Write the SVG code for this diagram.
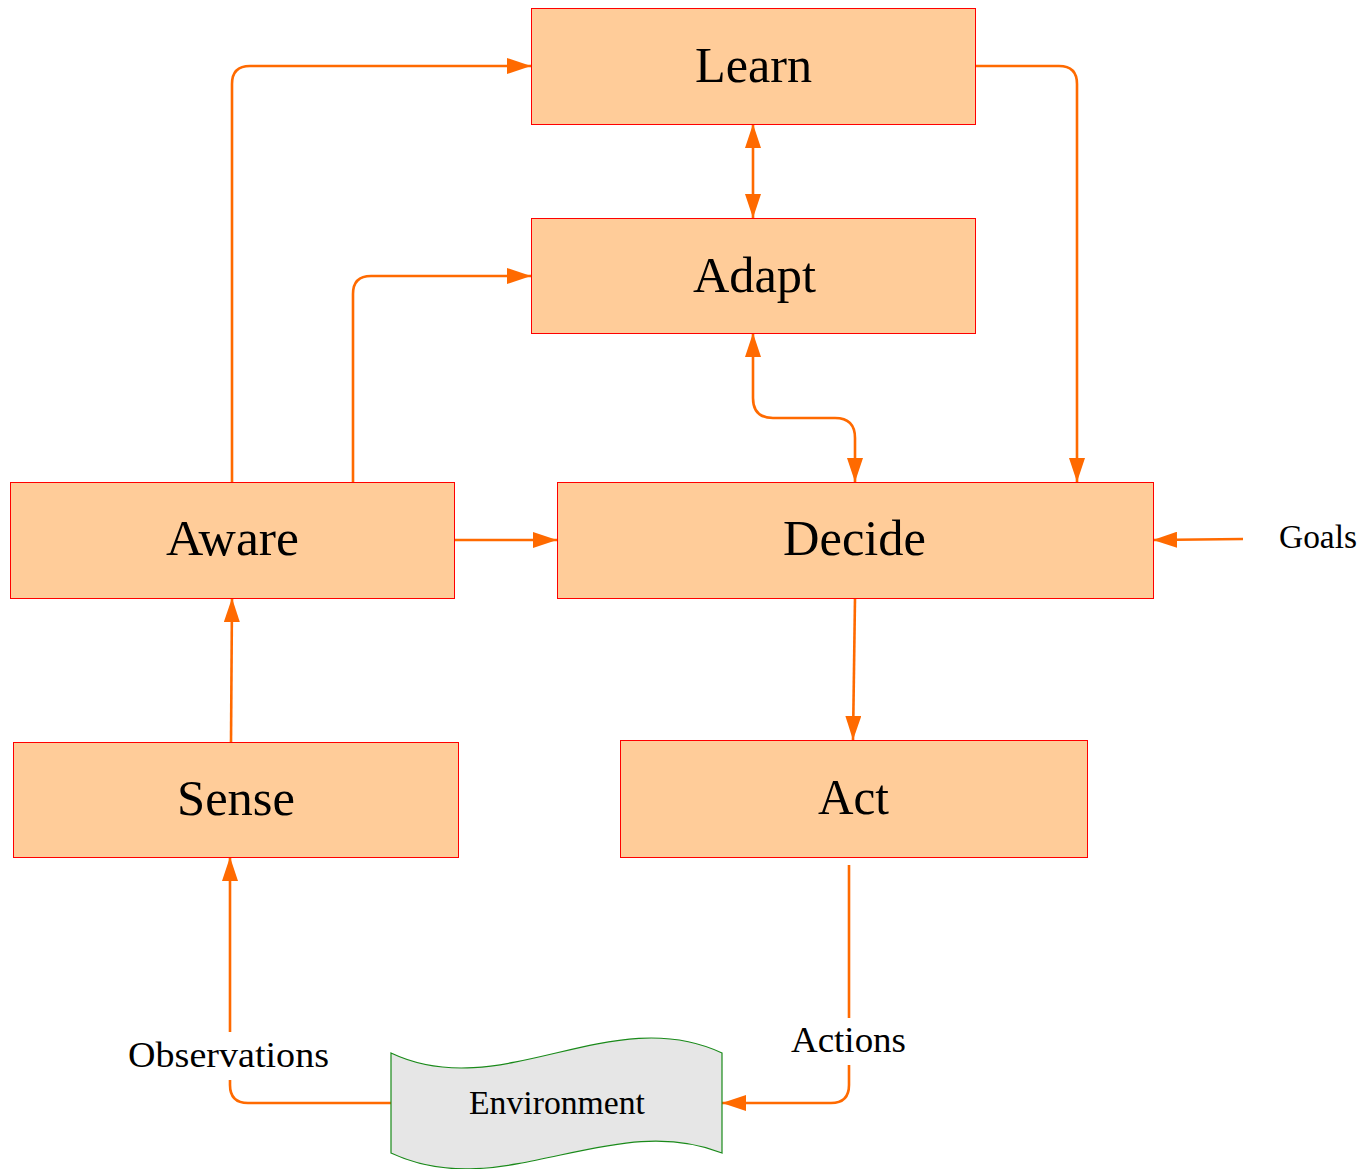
<svg xmlns="http://www.w3.org/2000/svg" width="1361" height="1169" viewBox="0 0 1361 1169">
  <style>
    .box { fill: #ffcc99; stroke: #ff0000; stroke-width: 1; }
    .env { fill: #e6e6e6; stroke: #1a8a1a; stroke-width: 1.2; }
    .t { font-family: "Liberation Serif", "Times New Roman", serif; fill: #000; text-anchor: middle; }
    .big { font-size: 50px; }
    .small { font-size: 33px; }
    .mid { font-size: 36px; }
    .edge { fill: none; stroke: #ff6a00; stroke-width: 2.6; }
    .arr { marker-end: url(#ah); }
    .both { marker-start: url(#ahs); marker-end: url(#ah); }
  </style>
  <defs>
    <marker id="ah" viewBox="0 0 24 16" refX="24" refY="8" markerWidth="24" markerHeight="16" markerUnits="userSpaceOnUse" orient="auto">
      <path d="M0,0 L24,8 L0,16 Z" fill="#ff6a00"/>
    </marker>
    <marker id="ahs" viewBox="0 0 24 16" refX="0" refY="8" markerWidth="24" markerHeight="16" markerUnits="userSpaceOnUse" orient="auto">
      <path d="M24,0 L0,8 L24,16 Z" fill="#ff6a00"/>
    </marker>
  </defs>

  <g id="connectors">
    <!-- Aware to Learn -->
    <path class="edge arr" d="M232,482 L232,84 Q232,66 250,66 L531,66"/>
    <!-- Aware to Adapt -->
    <path class="edge arr" d="M353,482 L353,294 Q353,276 371,276 L531,276"/>
    <!-- Learn <-> Adapt -->
    <path class="edge both" d="M753,124 L753,218"/>
    <!-- Adapt <-> Decide -->
    <path class="edge both" d="M753,333 L753,398 Q753,418 773,418 L835,418 Q855,418 855,438 L855,482"/>
    <!-- Learn to Decide -->
    <path class="edge arr" d="M975,66 L1059,66 Q1077,66 1077,84 L1077,482"/>
    <!-- Aware to Decide -->
    <path class="edge arr" d="M454,540 L557,540"/>
    <!-- Goals to Decide -->
    <path class="edge arr" d="M1243,539 L1153,540"/>
    <!-- Decide to Act -->
    <path class="edge arr" d="M855,598 L853,740"/>
    <!-- Sense to Aware -->
    <path class="edge arr" d="M231,742 L232,598"/>
    <!-- Environment to Sense (broken by label) -->
    <path class="edge" d="M391,1103 L248,1103 Q230,1103 230,1085 L230,1080"/>
    <path class="edge arr" d="M230,1032 L230,857"/>
    <!-- Act to Environment (broken by label) -->
    <path class="edge" d="M849,865 L849,1018"/>
    <path class="edge arr" d="M849,1065 L849,1085 Q849,1103 831,1103 L722,1103"/>
  </g>

  <g id="learn">
    <rect class="box" x="531.5" y="8.5" width="444" height="116"/>
    <text class="t big" x="753.5" y="82" textLength="117" lengthAdjust="spacingAndGlyphs">Learn</text>
  </g>
  <g id="adapt">
    <rect class="box" x="531.5" y="218.5" width="444" height="115"/>
    <text class="t big" x="754.5" y="292" textLength="123" lengthAdjust="spacingAndGlyphs">Adapt</text>
  </g>
  <g id="aware">
    <rect class="box" x="10.5" y="482.5" width="444" height="116"/>
    <text class="t big" x="232.5" y="555" textLength="133" lengthAdjust="spacingAndGlyphs">Aware</text>
  </g>
  <g id="decide">
    <rect class="box" x="557.5" y="482.5" width="596" height="116"/>
    <text class="t big" x="854.5" y="555" textLength="143" lengthAdjust="spacingAndGlyphs">Decide</text>
  </g>
  <g id="sense">
    <rect class="box" x="13.5" y="742.5" width="445" height="115"/>
    <text class="t big" x="236" y="815" textLength="118" lengthAdjust="spacingAndGlyphs">Sense</text>
  </g>
  <g id="act">
    <rect class="box" x="620.5" y="740.5" width="467" height="117"/>
    <text class="t big" x="853.5" y="814" textLength="71" lengthAdjust="spacingAndGlyphs">Act</text>
  </g>
  <g id="environment">
    <path class="env" d="M391,1053 C501,1105 611,1001 722,1053 L722,1153 C611,1109 501,1205 391,1153 Z"/>
    <text class="t small" x="557" y="1114" textLength="176" lengthAdjust="spacingAndGlyphs">Environment</text>
  </g>

  <g id="labels">
    <text class="t small" x="1318" y="548" textLength="78" lengthAdjust="spacingAndGlyphs">Goals</text>
    <text class="t mid" x="228.5" y="1067" textLength="201" lengthAdjust="spacingAndGlyphs">Observations</text>
    <text class="t mid" x="848.5" y="1052" textLength="115" lengthAdjust="spacingAndGlyphs">Actions</text>
  </g>
</svg>
